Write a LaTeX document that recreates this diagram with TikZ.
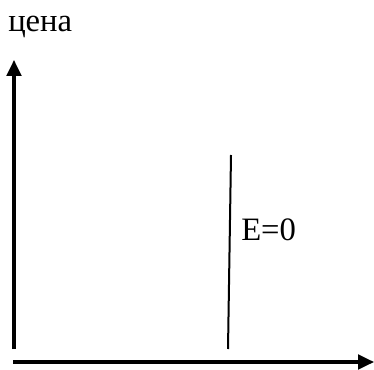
\documentclass[tikz,border=0pt]{standalone}
\usepackage{fontspec}
\setmainfont{Liberation Serif}
\usepackage{tikz}
\usetikzlibrary{positioning,arrows.meta}

\begin{document}
\begin{tikzpicture}[x=0.75pt,y=-0.75pt,every node/.style={font=\fontsize{24.5}{28}\selectfont,inner sep=0pt},
  axis/.style={line width=2.3pt,-{Triangle[length=12pt,width=11pt]}}]
  \useasboundingbox (0,0) rectangle (374,370);
  % axes
  \coordinate (o) at (14,349);
  \coordinate (ytop) at (14,60);
  \coordinate (xl) at (13,362);
  \coordinate (xr) at (374,362);
  \draw[axis] (o)--(ytop);
  \draw[axis] (xl)--(xr);
  \node[anchor=base west] (price) at (8,32) {цена};
  % E=0 line
  \coordinate (etop) at (231,155);
  \coordinate (ebot) at (228,349);
  \draw[line width=1.5pt] (ebot)--(etop);
  \node[anchor=base west] (elab) at (241,240) {E=0};
\end{tikzpicture}
\end{document}
